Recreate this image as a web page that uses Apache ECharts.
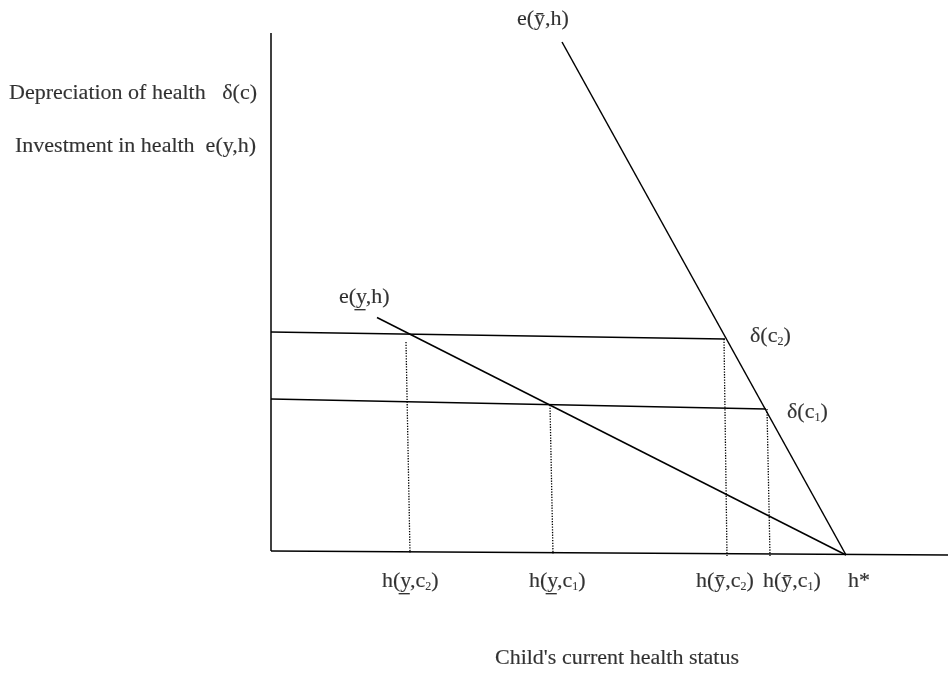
<!DOCTYPE html>
<html>
<head>
<meta charset="utf-8">
<script src="https://cdn.jsdelivr.net/npm/echarts@6/dist/echarts.min.js"></script>
<style>
html,body{margin:0;padding:0;background:#fff;}
#chart{width:948px;height:673px;}
</style>
</head>
<body>
<div id="chart"></div>
<script>
// Diagram geometry (x: health status, y: depreciation / investment), origin at the axes' corner
const verticalAxis = [[0, 0], [0, 518]];
const horizontalAxis = [[0, 0], [677, -4]];
const eHighIncome = [[291, 509], [575, -4]];     // e(ȳ,h)
const eLowIncome = [[106, 233.5], [575, -4]];    // e(y̲,h)
const deltaC2 = [[0, 219], [454, 212]];          // δ(c2)
const deltaC1 = [[0, 152], [495, 142]];          // δ(c1)
const dropLines = [
  [[135, 209], [139, -2]],   // h(y̲,c2)
  [[279, 146], [282, -3]],   // h(y̲,c1)
  [[453, 212], [456, -5]],   // h(ȳ,c2)
  [[496, 142], [499, -5]]    // h(ȳ,c1)
];
const yLow = 'y\u0332';
const yHigh = 'y\u0304';
const labelTexts = [
  'Depreciation of health   δ(c)',
  'Investment in health  e(y,h)',
  'e(' + yHigh + ',h)',
  'e(' + yLow + ',h)',
  'δ(c{s|2})',
  'δ(c{s|1})',
  'h(' + yLow + ',c{s|2})',
  'h(' + yLow + ',c{s|1})',
  'h(' + yHigh + ',c{s|2})',
  'h(' + yHigh + ',c{s|1})',
  'h*'
];
const xTitle = "Child's current health status";

const FONT = '"Liberation Serif", "Times New Roman", serif';
const labelAnchors = [
  [-262, 457.4], [-256, 404.4], [246, 531.4], [68, 253.4],
  [479, 214.4], [516, 138.4],
  [111, -30.6], [258, -30.6], [425, -30.6], [492, -30.6], [577, -30.6]
];

function lineSeries(data, dotted) {
  return {
    type: 'line', data: data, symbol: 'none', silent: true, animation: false,
    lineStyle: { color: '#000', width: dotted ? 1.3 : 1.5, type: dotted ? [1.3, 1.4] : 'solid' }
  };
}

const series = [
  lineSeries(verticalAxis), lineSeries(horizontalAxis),
  lineSeries(eHighIncome), lineSeries(eLowIncome),
  lineSeries(deltaC2), lineSeries(deltaC1)
];
dropLines.forEach(d => series.push(lineSeries(d, true)));

const textStyleBase = {
  color: '#000', fontFamily: FONT, fontSize: 22,
  textBorderColor: '#000', textBorderWidth: 0.15
};

series.push({
  type: 'scatter', symbolSize: 0, silent: true, animation: false,
  data: labelTexts.map((t, i) => ({ value: labelAnchors[i], name: t })),
  label: Object.assign({
    show: true, position: 'right', distance: 0, align: 'left', verticalAlign: 'middle',
    formatter: p => p.name,
    rich: { s: { fontSize: 12, fontFamily: FONT, color: '#000', textBorderColor: '#000', textBorderWidth: 0.1, verticalAlign: 'bottom' } }
  }, textStyleBase)
});
series.push({
  type: 'scatter', symbolSize: 0, silent: true, animation: false,
  data: [{ value: [346, -107], name: xTitle }],
  label: Object.assign({
    show: true, position: 'inside', align: 'center', verticalAlign: 'middle',
    formatter: p => p.name
  }, textStyleBase)
});

const chart = echarts.init(document.getElementById('chart'), null, { renderer: 'canvas' });
chart.setOption({
  backgroundColor: '#fff',
  animation: false,
  grid: { left: 0, right: 0, top: 0, bottom: 0 },
  xAxis: { type: 'value', min: -271, max: 677, show: false },
  yAxis: { type: 'value', min: -122, max: 551, show: false },
  series: series
});
</script>
</body>
</html>
